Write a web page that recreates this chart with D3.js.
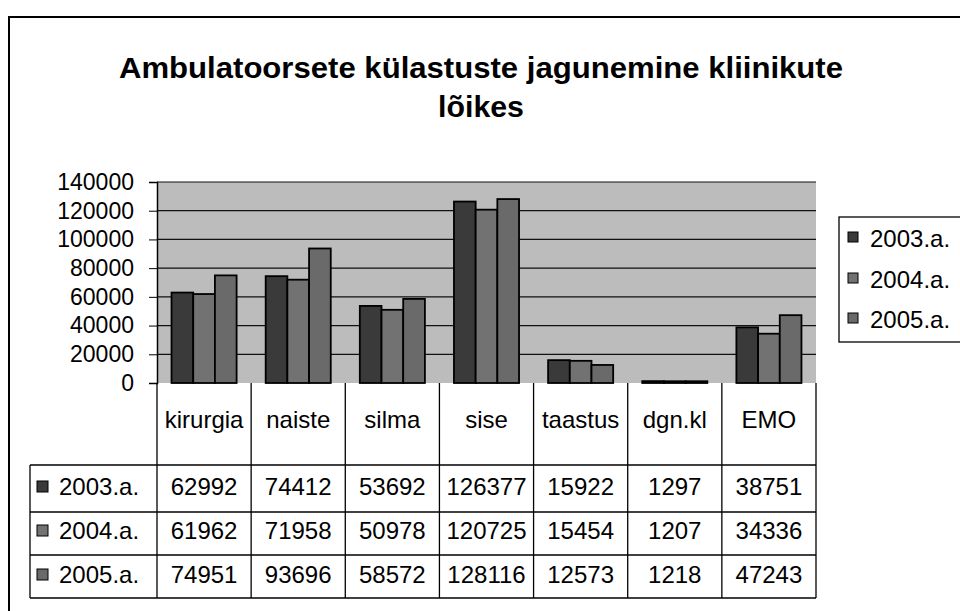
<!DOCTYPE html>
<html><head><meta charset="utf-8">
<script src="https://cdn.jsdelivr.net/npm/d3@7"></script>
<style>body{margin:0;background:#fff}svg text{font-family:"Liberation Sans",Arial,sans-serif}</style>
</head><body><svg id="c" width="960" height="611"></svg>
<script>
const categories = ["kirurgia","naiste","silma","sise","taastus","dgn.kl","EMO"];
const seriesNames = ["2003.a.","2004.a.","2005.a."];
const v2003 = [62992,74412,53692,126377,15922,1297,38751];
const v2004 = [61962,71958,50978,120725,15454,1207,34336];
const v2005 = [74951,93696,58572,128116,12573,1218,47243];
const yTicks = [0,20000,40000,60000,80000,100000,120000,140000];
const titleLines = ["Ambulatoorsete külastuste jagunemine kliinikute","lõikes"];

(function(){
const series = [v2003, v2004, v2005];
const colors = ["#3a3a3a","#727272","#6a6a6a"];
const svg = d3.select("#c");

// frame
svg.append("path").attr("d","M9,611 L9,17 L960,17").attr("fill","none").attr("stroke","#000").attr("stroke-width",2);

// title
svg.append("text").attr("x",481).attr("y",78).attr("text-anchor","middle")
  .attr("font-size",29).attr("font-weight","bold").attr("textLength",724).attr("lengthAdjust","spacingAndGlyphs")
  .text(titleLines[0]);
svg.append("text").attr("x",481).attr("y",117).attr("text-anchor","middle")
  .attr("font-size",29).attr("font-weight","bold").attr("textLength",86).attr("lengthAdjust","spacingAndGlyphs").text(titleLines[1]);

const pL = 157, pR = 816, pT = 182, pB = 383;
const x0 = d3.scaleBand().domain(categories).range([pL,pR]).paddingInner(0).paddingOuter(0);
const x1 = d3.scaleBand().domain(seriesNames).range([0,x0.bandwidth()]).paddingInner(0).paddingOuter(0.67);
const y = d3.scaleLinear().domain([0,140000]).range([pB,pT]);

// plot background
svg.append("rect").attr("x",pL).attr("y",pT).attr("width",pR-pL).attr("height",pB-pT).attr("fill","#bcbcbc");
// gridlines
svg.append("g").selectAll("line").data(yTicks.filter(d=>d>0)).join("line")
  .attr("x1",pL).attr("x2",pR).attr("y1",d=>y(d)).attr("y2",d=>y(d)).attr("stroke","#111").attr("stroke-width",1.2);

// bars
const gs = svg.append("g").selectAll("g").data(series).join("g").attr("fill",(d,i)=>colors[i]);
gs.each(function(vals,si){
  d3.select(this).selectAll("rect").data(vals).join("rect")
    .attr("x",(d,ci)=>x0(categories[ci])+x1(seriesNames[si]))
    .attr("y",d=>y(d)).attr("width",x1.bandwidth()).attr("height",d=>pB-y(d))
    .attr("stroke","#000").attr("stroke-width",1.8);
});

// y axis
const yAxis = d3.axisLeft(y).tickValues(yTicks).tickSize(8).tickPadding(15).tickFormat(d3.format("d"));
const ga = svg.append("g").attr("transform",`translate(${pL},0)`).call(yAxis);
ga.select(".domain").attr("stroke","#000").attr("stroke-width",1.5);
ga.selectAll("line").attr("stroke","#000");
ga.selectAll("text").attr("font-size",23).attr("fill","#000").attr("font-family","Liberation Sans, Arial, sans-serif");

// data table
const tTop = 383, hdrBot = 465, rowBot = [512,555,598];
const tbl = svg.append("g").attr("stroke","#000").attr("stroke-width",1.3);
const bounds = categories.map(c=>x0(c)).concat([pR]);
tbl.selectAll("line.v").data(bounds).join("line").attr("class","v")
  .attr("x1",d=>d).attr("x2",d=>d).attr("y1",tTop).attr("y2",598);
tbl.selectAll("line.h").data([hdrBot].concat(rowBot)).join("line").attr("class","h")
  .attr("x1",30).attr("x2",pR).attr("y1",d=>d).attr("y2",d=>d);
tbl.append("line").attr("x1",30).attr("x2",30).attr("y1",hdrBot).attr("y2",598);

// header labels
svg.append("g").selectAll("text").data(categories).join("text")
  .attr("x",d=>x0(d)+x0.bandwidth()/2).attr("y",428).attr("text-anchor","middle")
  .attr("font-size",24).text(d=>d);

const rowBase = [495,539,583];
series.forEach((vals,si)=>{
  const g = svg.append("g");
  g.append("rect").attr("x",37).attr("y",rowBase[si]-14).attr("width",11).attr("height",11)
    .attr("fill",colors[si]).attr("stroke","#000").attr("stroke-width",1);
  g.append("text").attr("x",59).attr("y",rowBase[si]).attr("font-size",24).text(seriesNames[si]);
  g.selectAll("text.v").data(vals).join("text").attr("class","v")
    .attr("x",(d,ci)=>x0(categories[ci])+x0.bandwidth()/2).attr("y",rowBase[si])
    .attr("text-anchor","middle").attr("font-size",24).text(d=>d);
});

// legend
svg.append("rect").attr("x",839).attr("y",217).attr("width",140).attr("height",125)
  .attr("fill","#fff").attr("stroke","#000").attr("stroke-width",1.3);
const legBase = [247,288,328];
seriesNames.forEach((s,si)=>{
  svg.append("rect").attr("x",848).attr("y",legBase[si]-15).attr("width",10).attr("height",10)
    .attr("fill",colors[si]).attr("stroke","#000").attr("stroke-width",1);
  svg.append("text").attr("x",870).attr("y",legBase[si]).attr("font-size",24).text(s);
});
})();
</script></body></html>
